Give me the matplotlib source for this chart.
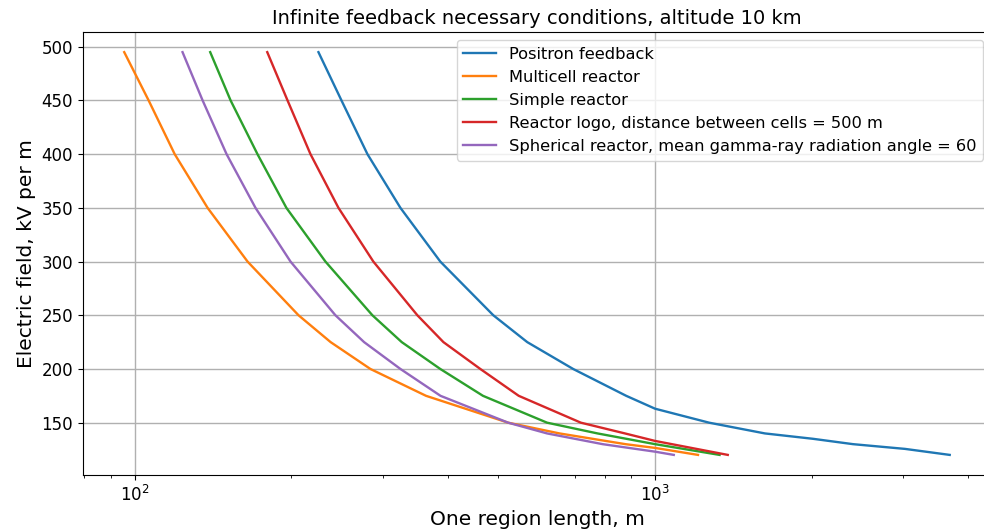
import matplotlib
matplotlib.use("Agg")
import matplotlib.pyplot as plt

# --------- DATA ---------
# region length, m  /  electric field, kV per m
positron_len = [225.5, 249.7, 280.1, 324.1, 386.6, 488.8, 568, 695.9, 880, 1000, 1270, 1625, 2010, 2400, 3020, 3681]
positron_e = [495, 450, 400, 350, 300, 250, 225, 200, 175, 163, 150, 140, 135, 130, 125.6, 120]

multicell_len = [95.5, 106.4, 119.4, 138.1, 164.8, 206.5, 238, 283.8, 363, 522, 655, 877, 1000, 1209]
multicell_e = [495, 450, 400, 350, 300, 250, 225, 200, 175, 150, 140, 130, 126.5, 120]

simple_len = [139.7, 152.9, 172.2, 195.7, 232.6, 286.3, 326, 386.6, 467, 620, 775, 1000, 1330]
simple_e = [495, 450, 400, 350, 300, 250, 225, 200, 175, 150, 140, 130, 120]

logo_len = [179.8, 196.7, 217.7, 246.4, 287.5, 349.3, 392, 461.5, 547, 720, 875, 1000, 1379]
logo_e = [495, 450, 400, 350, 300, 250, 225, 200, 175, 150, 140, 133, 120]

spherical_len = [123.6, 135.1, 150.2, 170.7, 199.3, 243.1, 276, 324.1, 387, 522, 620, 793, 1000, 1086]
spherical_e = [495, 450, 400, 350, 300, 250, 225, 200, 175, 150, 140, 130, 123, 120]

LABELS = [
    "Positron feedback",
    "Multicell reactor",
    "Simple reactor",
    "Reactor logo, distance between cells = 500 m",
    "Spherical reactor, mean gamma-ray radiation angle = 60",
]
# --------------------------------------------------


def main():
    fig = plt.figure(figsize=(9.84, 5.29), dpi=100)
    # right edge of the axes runs slightly past the picture, as in the reference crop
    ax = fig.add_axes([0.0843, 0.102, 0.9228, 0.8375])

    series = [
        (positron_len, positron_e),
        (multicell_len, multicell_e),
        (simple_len, simple_e),
        (logo_len, logo_e),
        (spherical_len, spherical_e),
    ]
    for (x, y), lab in zip(series, LABELS):
        ax.plot(x, y, lw=1.7, label=lab)

    ax.set_xscale("log")
    ax.grid(True, which="major", color="#b0b0b0", lw=1.0)
    ax.tick_params(labelsize=12)

    ax.set_title("Infinite feedback necessary conditions, altitude 10 km", fontsize=14)
    ax.set_xlabel("One region length, m", fontsize=14.5)
    ax.set_ylabel("Electric field, kV per m", fontsize=14.5)
    ax.legend(loc="upper right", fontsize=11.7)

    fig.savefig("out.png", dpi=100)
    plt.close(fig)


if __name__ == "__main__":
    main()
